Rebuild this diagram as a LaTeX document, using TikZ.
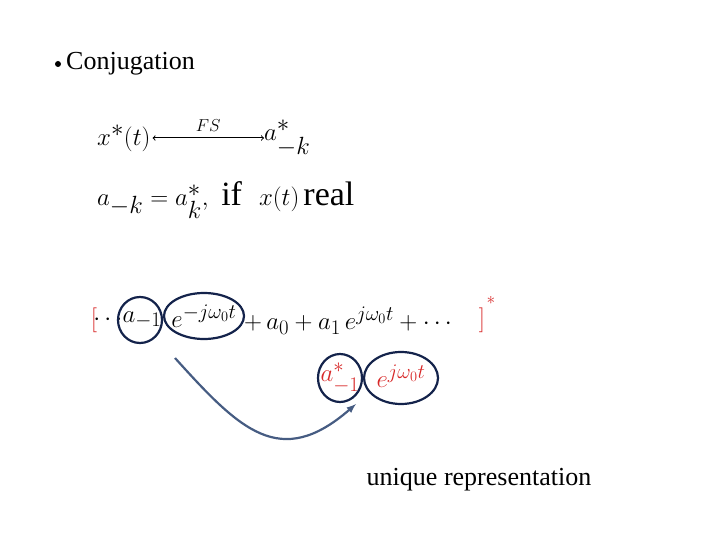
\documentclass[tikz,border=0pt]{standalone}
\usepackage{amsmath}
\usepackage{amssymb}
\usepackage{fontspec}
\setmainfont{Liberation Serif}
\usepackage{tikz}
\usetikzlibrary{positioning}
\usetikzlibrary{shapes.geometric}
\definecolor{ringblue}{RGB}{20,35,75}
\definecolor{arrowblue}{RGB}{70,92,130}
\definecolor{brred}{RGB}{215,40,40}
\newcommand{\bigtxt}{\fontsize{26}{30}\selectfont}
\newcommand{\mathtxt}{\fontsize{34}{40}\selectfont}
\newcommand{\sertxt}{\fontsize{30}{36}\selectfont}

\begin{document}
\begin{tikzpicture}[
    x=1pt, y=-1pt,
    ring/.style={ellipse, draw=ringblue, line width=2.2pt, inner sep=0pt},
    eqline/.style={anchor=west, inner sep=0pt, font=\mathtxt},
    serpart/.style={inner sep=0pt, font=\sertxt},
    node distance=0pt
    ]
    \useasboundingbox (0,0) rectangle (720,540);
    %Heading
    \node[circle, fill=black, inner sep=0pt, minimum size=6pt] (dot) at (58,64) {};
    \node[anchor=west, inner sep=0pt, font=\bigtxt] (head) at (66,64) {Conjugation};

    %Equations
    \node[eqline] (xs) at (97,138) {$x^*(t)$};
    \node[eqline] (aks) at (264,138) {$a^*_{-k}$};
    \draw[<->, line width=1pt] (xs.east) ++(2,0) coordinate (fsL) -- (aks.west) coordinate (fsR)
        node[midway, above=3pt, font=\fontsize{16}{18}\selectfont] (fs) {$FS$};
    \node[eqline] (real) at (97,200) {$a_{-k}=a^*_k,\ \text{if}\ \ x(t)\,\text{real}$};

    %Series
    \node[serpart, text=brred, font=\fontsize{44}{48}\selectfont] (lbr) at (94,320) {$[$};
    \node[serpart] (dots) at (110,320) {$\cdots$};
    \node[serpart] (am) at (142,320) {$a_{-1}$};
    \node[serpart] (em) at (204,316) {$e^{-j\omega_0 t}$};
    \node[serpart, anchor=west] (rest) at (244,321) {$+\,a_0+a_1\,e^{j\omega_0 t}+\cdots$};
    \node[serpart, text=brred, font=\fontsize{44}{48}\selectfont] (rbr) at (482,320) {$]$};
    \node[inner sep=0pt, text=brred, font=\fontsize{18}{20}\selectfont] (star) at (491,300) {$*$};

    \node[serpart, text=brred] (as) at (340,378) {$a^*_{-1}$};
    \node[serpart, text=brred] (ep) at (401,376) {$e^{j\omega_0 t}$};

    %Rings
    \node[ring, minimum width=44pt, minimum height=46pt] at (140,320) {};
    \node[ring, minimum width=80pt, minimum height=46pt] at (204,316) {};
    \node[ring, minimum width=44pt, minimum height=48pt] at (340,378) {};
    \node[ring, minimum width=74pt, minimum height=52pt] at (401,378) {};

    %Arrow
    \coordinate (tail) at (175,358);
    \coordinate (tip) at (356,404);
    \draw[-latex, arrowblue, line width=2.2pt] (tail) .. controls (240,430) and (280,470) .. (tip);

    \node[anchor=base, inner sep=0pt, font=\bigtxt] (uniq) at (479,485) {unique representation};
\end{tikzpicture}
\end{document}
